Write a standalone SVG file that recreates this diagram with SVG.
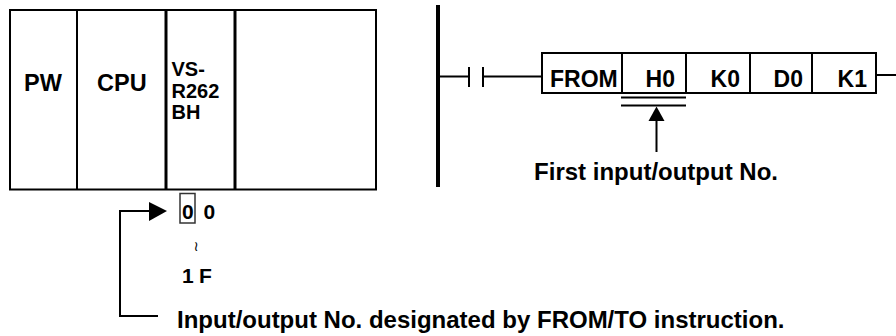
<svg xmlns="http://www.w3.org/2000/svg" width="896" height="336" viewBox="0 0 896 336">
<style>
.ln{stroke:#000;stroke-width:2;fill:none}
.thk{stroke:#000;stroke-width:3;fill:none}
.ah{fill:#000;stroke:none}
.t{font-family:"Liberation Sans",Arial,sans-serif;font-weight:bold;fill:#000}
.l{font-size:23.5px}
.m{font-size:20px}
.d{font-size:21px}
</style>
<rect width="896" height="336" fill="#fff"/>
<g id="plc-rack">
<rect class="ln" x="10" y="10" width="366" height="179.5"/>
<line class="ln" x1="77" y1="10" x2="77" y2="190"/>
<line class="thk" x1="166" y1="10" x2="166" y2="190"/>
<line class="thk" x1="235" y1="10" x2="235" y2="190"/>
<text class="t l" x="24" y="91">PW</text>
<text class="t l" x="97" y="91">CPU</text>
<text class="t m" x="171.5" y="76">VS-</text>
<text class="t m" x="171.5" y="97.5">R262</text>
<text class="t m" x="171.5" y="119">BH</text>
</g>
<g id="io-numbers">
<rect x="180" y="193.5" width="15" height="29.5" fill="none" stroke="#333" stroke-width="1.5"/>
<text class="t d" x="182" y="219">0</text>
<text class="t d" x="203.5" y="219">0</text>
<text x="196" y="251" text-anchor="middle" style="font-family:'DejaVu Sans',sans-serif;font-size:14px" fill="#000">≀</text>
<text class="t d" x="182" y="283">1</text>
<text class="t d" x="199" y="283">F</text>
</g>
<g id="ladder">
<line x1="438" y1="5" x2="438" y2="187" stroke="#000" stroke-width="4"/>
<line class="ln" x1="438" y1="76.5" x2="469" y2="76.5"/>
<line class="ln" x1="469" y1="67" x2="469" y2="87" stroke-width="2.5"/>
<line class="ln" x1="483" y1="67" x2="483" y2="87" stroke-width="2.5"/>
<line class="ln" x1="483" y1="76.5" x2="542" y2="76.5"/>
<line class="ln" x1="876" y1="75" x2="896" y2="75"/>
</g>
<g id="from-instruction">
<rect class="ln" x="542" y="53" width="334" height="40" stroke-width="2.5"/>
<line class="ln" x1="622" y1="53" x2="622" y2="93"/>
<line class="ln" x1="686" y1="53" x2="686" y2="93"/>
<line class="ln" x1="750" y1="53" x2="750" y2="93"/>
<line class="ln" x1="812" y1="53" x2="812" y2="93"/>
<text class="t l" x="550" y="87" style="font-size:23px">FROM</text>
<text class="t l" x="675" y="87" text-anchor="end" style="font-size:23px">H0</text>
<text class="t l" x="740" y="87" text-anchor="end" style="font-size:23px">K0</text>
<text class="t l" x="803" y="87" text-anchor="end" style="font-size:23px">D0</text>
<text class="t l" x="867" y="87" text-anchor="end" style="font-size:23px">K1</text>
<line class="ln" x1="621" y1="97.5" x2="686" y2="97.5"/>
<line class="ln" x1="621" y1="105.5" x2="686" y2="105.5"/>
</g>
<g id="connectors">
<polygon class="ah" points="656.5,106.5 648.5,121 664.5,121"/>
<line class="ln" x1="656.5" y1="120" x2="656.5" y2="152"/>
<polyline class="ln" points="150,211 120,211 120,316 158,316"/>
<polygon class="ah" points="167,211 149,202 149,221"/>
</g>
<g id="labels">
<text class="t" x="778" y="180" text-anchor="end" style="font-size:24px">First input/output No.</text>
<text class="t" x="177" y="328" style="font-size:24px">Input/output No. designated by FROM/TO instruction.</text>
</g>
</svg>
